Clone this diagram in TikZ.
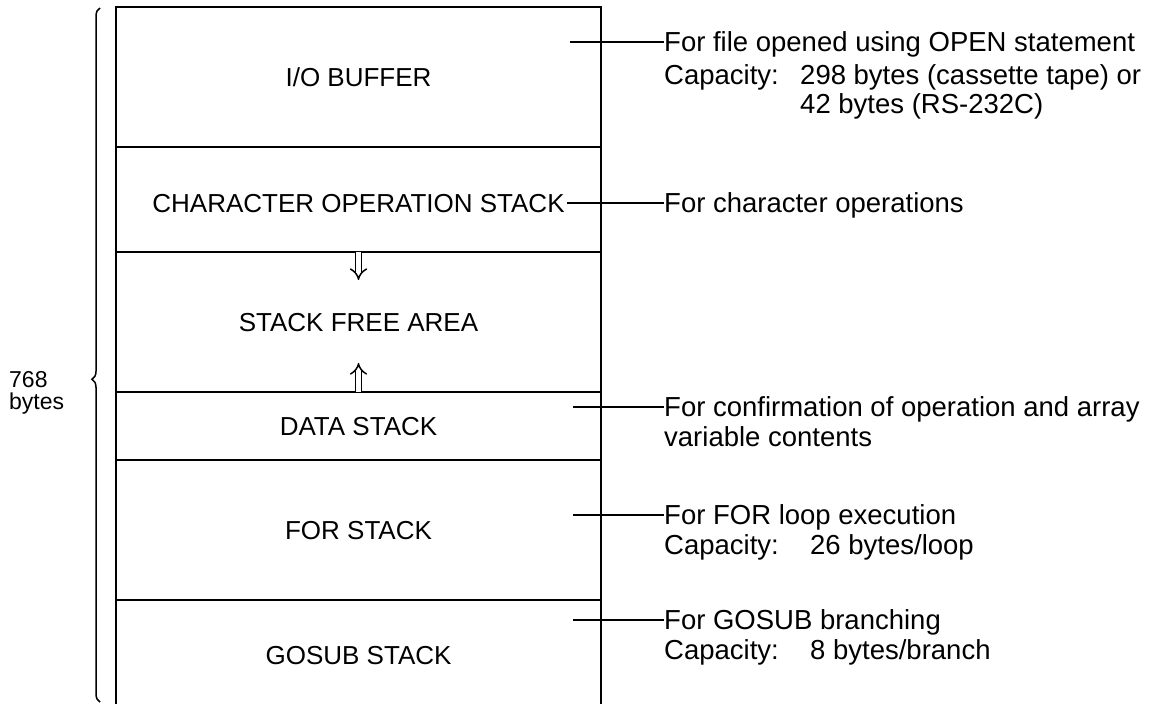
\documentclass[tikz,border=0pt]{standalone}
\usepackage{fontspec}
\setmainfont{Liberation Sans}
\usetikzlibrary{arrows.meta,decorations.pathreplacing}
\begin{document}
\begin{tikzpicture}[x=1pt,y=-1pt,
  lbl/.style={font=\fontsize{26}{30}\selectfont, inner sep=0pt, anchor=base},
  note/.style={font=\fontsize{27.5}{30}\selectfont, inner sep=0pt, anchor=base west},
  side/.style={font=\fontsize{23}{22}\selectfont, inner sep=0pt, align=left},
  wall/.style={line width=2.2pt},
  divider/.style={line width=2pt},
  leader/.style={line width=1.3pt},
  flow/.style={double, double distance=4.5pt, line width=1.5pt, -{Implies}},
  bracestyle/.style={line width=1.5pt, decorate, decoration={brace, amplitude=8pt, aspect=0.465}}]
\useasboundingbox (0,0) rectangle (1151,704);
% memory box
\draw[wall] (116,704) -- (116,7) -- (601,7) -- (601,704);
\draw[divider] (116,147) -- (601,147);
\draw[divider] (116,252) -- (601,252);
\draw[divider] (116,392) -- (601,392);
\draw[divider] (116,460) -- (601,460);
\draw[divider] (116,600) -- (601,600);
% labels
\node[lbl] (io) at (358.5,86) {I/O BUFFER};
\node[lbl] (chr) at (358.5,212) {CHARACTER OPERATION STACK};
\node[lbl] (free) at (358.5,331) {STACK FREE AREA};
\node[lbl] (data) at (358.5,435) {DATA STACK};
\node[lbl] (for) at (358.5,539) {FOR STACK};
\node[lbl] (gosub) at (358.5,664) {GOSUB STACK};
% arrows in free area
\coordinate (dtop) at (358.5,252);
\coordinate (dend) at (358.5,280);
\coordinate (ubot) at (358.5,392);
\coordinate (uend) at (358.5,363);
\draw[flow] (dtop) -- (dend);
\draw[flow] (ubot) -- (uend);
% brace and size
\coordinate (bb) at (100,702);
\coordinate (bt) at (100,8);
\draw[bracestyle] (bb) -- (bt);
\node[side, anchor=north west] (size) at (9,371) {768\\bytes};
% notes
\node[note] (n1a) at (664,51) {For file opened using OPEN statement};
\node[note] (n1b) at (664,84) {Capacity:};
\node[note] (n1c) at (800,84) {298 bytes (cassette tape) or};
\node[note] (n1d) at (800,113) {42 bytes (RS-232C)};
\node[note] (n2) at (664,212) {For character operations};
\node[note] (n3a) at (664,416) {For confirmation of operation and array};
\node[note] (n3b) at (664,446) {variable contents};
\node[note] (n4a) at (664,524) {For FOR loop execution};
\node[note] (n4b) at (664,554) {Capacity:};
\node[note] (n4c) at (810,554) {26 bytes/loop};
\node[note] (n5a) at (664,629) {For GOSUB branching};
\node[note] (n5b) at (664,659) {Capacity:};
\node[note] (n5c) at (810,659) {8 bytes/branch};
% leaders
\coordinate (l1) at (570,42);
\coordinate (l3) at (573,407);
\coordinate (l4) at (573,515);
\coordinate (l5) at (573,620);
\draw[leader] (l1) -- (l1 -| n1a.west);
\draw[leader] ([xshift=2pt,yshift=9pt]chr.base east) -- ([yshift=9pt]n2.base west);
\draw[leader] (l3) -- (l3 -| n3a.west);
\draw[leader] (l4) -- (l4 -| n4a.west);
\draw[leader] (l5) -- (l5 -| n5a.west);
\end{tikzpicture}
\end{document}
